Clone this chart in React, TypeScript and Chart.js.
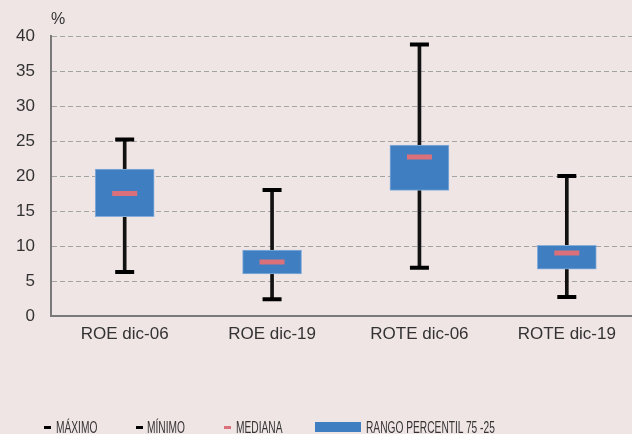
import React, { useEffect, useRef } from "react";
import { Chart, registerables } from "chart.js";

Chart.register(...registerables);

const categories = ["ROE dic-06", "ROE dic-19", "ROTE dic-06", "ROTE dic-19"];
const maximo = [25.2, 18.0, 38.8, 20.0];
const minimo = [6.3, 2.4, 6.9, 2.7];
const mediana = [17.5, 7.7, 22.7, 9.0];
const p75 = [21.0, 9.4, 24.4, 10.1];
const p25 = [14.2, 6.0, 17.95, 6.7];
const yTicks = [0, 5, 10, 15, 20, 25, 30, 35, 40];
const legendLabels = ["MÁXIMO", "MÍNIMO", "MEDIANA", "RANGO PERCENTIL 75 -25"];

const BG = "#F0E5E5";
const BLUE = "#3F7FC1";
const PINK = "#D9707A";
const TEXT = "#333333";
const FONT = "'Liberation Sans', Arial, sans-serif";

export default function App() {
  const ref = useRef<HTMLCanvasElement | null>(null);
  useEffect(() => {
    if (!ref.current) return;
    const chart = new Chart(ref.current, {
      type: "bar",
      data: {
        labels: categories,
        datasets: [
          {
            type: "bar",
            label: "whisker",
            data: minimo.map((m, i) => [m, maximo[i]]),
            backgroundColor: "#111111",
            barThickness: 3,
            grouped: false,
            order: 5,
          } as any,
          {
            type: "bar",
            label: legendLabels[3],
            data: p25.map((v, i) => [v, p75[i]]),
            backgroundColor: BLUE,
            borderColor: "#86AEDB",
            borderWidth: 1,
            borderSkipped: false,
            barThickness: 59,
            grouped: false,
            order: 4,
          } as any,
          {
            type: "line",
            label: legendLabels[0],
            data: maximo,
            showLine: false,
            pointStyle: "line",
            pointRadius: 9.5,
            pointBorderWidth: 4,
            pointBorderColor: "#000000",
            borderColor: "#000000",
            order: 1,
          } as any,
          {
            type: "line",
            label: legendLabels[1],
            data: minimo,
            showLine: false,
            pointStyle: "line",
            pointRadius: 9.5,
            pointBorderWidth: 4,
            pointBorderColor: "#000000",
            borderColor: "#000000",
            order: 1,
          } as any,
          {
            type: "line",
            label: legendLabels[2],
            data: mediana,
            showLine: false,
            pointStyle: "line",
            pointRadius: 12.5,
            pointBorderWidth: 5,
            pointBorderColor: PINK,
            borderColor: PINK,
            order: 0,
          } as any,
        ],
      },
      options: {
        animation: false,
        responsive: false,
        maintainAspectRatio: false,
        layout: { padding: { top: 34, left: 0, right: 2, bottom: 0 } },
        plugins: { legend: { display: false }, tooltip: { enabled: false } },
        scales: {
          x: {
            offset: true,
            grid: { display: false },
            border: { display: true, color: "#7A7A7A", width: 2 },
            ticks: {
              color: TEXT,
              padding: 0,
              font: { family: FONT, size: 17 },
            },
            afterFit: (s: any) => {
              s.height = 36;
            },
          },
          y: {
            min: 0,
            max: 40,
            afterBuildTicks: (s: any) => {
              s.ticks = yTicks.map((v) => ({ value: v }));
            },
            grid: {
              color: (ctx: any) => (ctx.tick && ctx.tick.value === 0 ? "rgba(0,0,0,0)" : "#A3A3A3"),
              lineWidth: 1,
              drawTicks: false,
            },
            border: { display: true, color: "#7A7A7A", width: 2, dash: [5, 3] },
            ticks: {
              color: TEXT,
              padding: 16,
              font: { family: FONT, size: 17 },
            },
            afterFit: (s: any) => {
              s.width = 51;
            },
          },
        },
      },
    });
    return () => chart.destroy();
  }, []);

  const legendFont: React.CSSProperties = {
    position: "absolute",
    top: 419,
    fontFamily: FONT,
    fontSize: 17,
    lineHeight: "17px",
    color: TEXT,
    transform: "scaleX(0.6)",
    transformOrigin: "left top",
    whiteSpace: "nowrap",
  };

  return (
    <div
      style={{
        position: "fixed",
        left: 0,
        top: 0,
        width: 632,
        height: 434,
        background: BG,
        overflow: "hidden",
      }}
    >
      <canvas ref={ref} width={658} height={350} style={{ position: "absolute", left: 0, top: 2, width: 658, height: 350 }} />
      <div
        style={{
          position: "absolute",
          left: 51,
          top: 11,
          fontFamily: FONT,
          fontSize: 16,
          lineHeight: "16px",
          color: TEXT,
        }}
      >
        %
      </div>
      <div style={{ position: "absolute", left: 44, top: 426, width: 7, height: 3, background: "#000" }} />
      <div style={{ ...legendFont, left: 56 }}>{legendLabels[0]}</div>
      <div style={{ position: "absolute", left: 136, top: 426, width: 7, height: 3, background: "#000" }} />
      <div style={{ ...legendFont, left: 147 }}>{legendLabels[1]}</div>
      <div style={{ position: "absolute", left: 224, top: 426, width: 7, height: 3, background: PINK }} />
      <div style={{ ...legendFont, left: 236 }}>{legendLabels[2]}</div>
      <div style={{ position: "absolute", left: 315, top: 422, width: 46, height: 10, background: BLUE }} />
      <div style={{ ...legendFont, left: 366 }}>{legendLabels[3]}</div>
    </div>
  );
}
